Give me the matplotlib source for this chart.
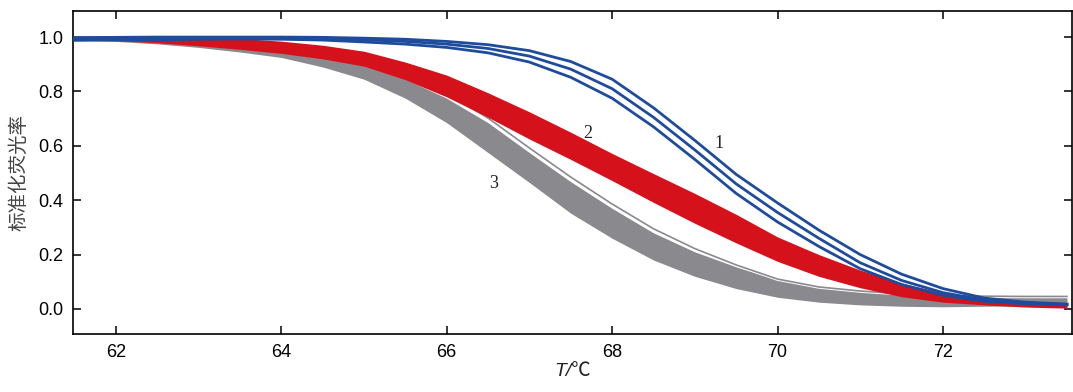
import matplotlib
matplotlib.use('Agg')
import matplotlib.pyplot as plt
import numpy as np

# temperature grid (°C) and normalised fluorescence
temp = [61.5, 62, 62.5, 63, 63.5, 64, 64.5, 65, 65.5, 66, 66.5, 67, 67.5,
        68, 68.5, 69, 69.5, 70, 70.5, 71, 71.5, 72, 72.5, 73, 73.5]

# group 1: three blue curves
blue_a = [0.998, 0.999, 1.0, 1.0, 1.0, 1.0, 0.999, 0.996, 0.992, 0.984, 0.972, 0.95, 0.91,
          0.845, 0.74, 0.62, 0.495, 0.39, 0.29, 0.2, 0.128, 0.075, 0.04, 0.025, 0.018]
blue_b = [0.995, 0.996, 0.997, 0.998, 0.998, 0.997, 0.995, 0.99, 0.984, 0.974, 0.958, 0.93, 0.882,
          0.81, 0.705, 0.585, 0.46, 0.355, 0.26, 0.17, 0.105, 0.06, 0.033, 0.022, 0.017]
blue_c = [0.988, 0.989, 0.99, 0.992, 0.993, 0.992, 0.989, 0.982, 0.974, 0.962, 0.942, 0.908, 0.852,
          0.775, 0.67, 0.55, 0.425, 0.32, 0.23, 0.148, 0.09, 0.05, 0.028, 0.019, 0.015]

# group 2: red band (upper / lower envelope)
red_hi = [1.003, 1.003, 1.002, 1.0, 0.995, 0.985, 0.97, 0.948, 0.908, 0.86, 0.795, 0.725, 0.65,
          0.572, 0.498, 0.425, 0.348, 0.265, 0.2, 0.143, 0.095, 0.06, 0.04, 0.027, 0.018]
red_lo = [0.992, 0.987, 0.979, 0.968, 0.955, 0.94, 0.92, 0.893, 0.843, 0.78, 0.705, 0.625, 0.55,
          0.472, 0.392, 0.315, 0.243, 0.175, 0.12, 0.078, 0.045, 0.025, 0.015, 0.007, 0.003]

# group 3: grey band plus one separate grey curve
grey_hi = [1.0, 0.996, 0.99, 0.982, 0.97, 0.955, 0.93, 0.895, 0.845, 0.775, 0.685, 0.575, 0.468,
           0.37, 0.28, 0.21, 0.155, 0.108, 0.08, 0.065, 0.055, 0.048, 0.046, 0.046, 0.046]
grey_lo = [0.99, 0.984, 0.975, 0.962, 0.945, 0.925, 0.89, 0.845, 0.775, 0.685, 0.575, 0.465, 0.352,
           0.26, 0.18, 0.12, 0.075, 0.043, 0.025, 0.015, 0.01, 0.008, 0.01, 0.011, 0.011]
grey_line = [1.0, 0.996, 0.99, 0.982, 0.97, 0.957, 0.935, 0.905, 0.86, 0.792, 0.702, 0.592, 0.485,
             0.386, 0.295, 0.222, 0.162, 0.11, 0.081, 0.066, 0.056, 0.049, 0.047, 0.046, 0.046]

labels = ['1', '2', '3']

c_blue = '#1f4b9c'
c_red = '#d5111b'
c_grey = '#8a898e'

fig = plt.figure(figsize=(10.73, 3.92), dpi=100)
ax = fig.add_axes([0.068, 0.148, 0.931, 0.824])

ax.fill_between(temp, grey_lo, grey_hi, color=c_grey, lw=0, zorder=1)
ax.plot(temp, grey_line, color='white', lw=2.6, zorder=1.5)
ax.plot(temp, grey_line, color=c_grey, lw=1.2, zorder=1.6)
ax.fill_between(temp, red_lo, red_hi, color=c_red, lw=0, zorder=2)
for b in (blue_a, blue_b, blue_c):
    ax.plot(temp, b, color=c_blue, lw=2.0, zorder=3)

lab_font = dict(family='Liberation Serif', fontsize=13, color='#222222')
ax.text(69.29, 0.61, labels[0], ha='center', va='center', **lab_font)
ax.text(67.70, 0.647, labels[1], ha='center', va='center', **lab_font)
ax.text(66.57, 0.463, labels[2], ha='center', va='center', **lab_font)

ax.set_xlim(61.48, 73.56)
ax.set_ylim(-0.092, 1.096)
ax.set_xticks([62, 64, 66, 68, 70, 72])
ax.set_yticks([0.0, 0.2, 0.4, 0.6, 0.8, 1.0])
ax.set_yticklabels(['0.0', '0.2', '0.4', '0.6', '0.8', '1.0'])
ax.tick_params(direction='in', length=6, width=1.1, top=True, right=True,
               labelsize=13, pad=7)
for lab in ax.get_xticklabels() + ax.get_yticklabels():
    lab.set_family('Liberation Sans')
for s in ax.spines.values():
    s.set_linewidth(1.2)

ax.set_ylabel('标准化荧光率', family=['Noto Sans CJK SC', 'DejaVu Sans'],
              fontsize=14, color='#444444', labelpad=6)
ax.set_xlabel('T/℃', family=['Liberation Sans', 'Noto Sans CJK SC'],
              style='italic', fontsize=14, color='#222222', labelpad=2)

fig.savefig('out.png', dpi=100)
